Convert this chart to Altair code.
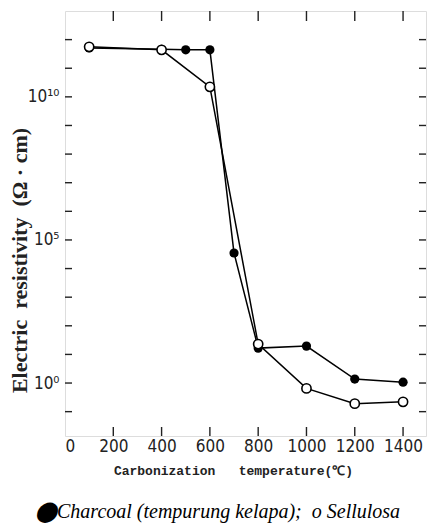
import altair as alt
import pandas as pd

# Data
charcoal_temp = [100, 400, 500, 600, 700, 800, 1000, 1200, 1400]
charcoal_res = [5.1e11, 4.6e11, 4.4e11, 4.4e11, 3.5e4, 16.6, 19.5, 1.38, 1.07]
sellulosa_temp = [100, 400, 600, 800, 1000, 1200, 1400]
sellulosa_res = [5.6e11, 4.4e11, 2.24e10, 22.9, 0.65, 0.19, 0.22]

x_tick_values = [200, 400, 600, 800, 1000, 1200, 1400]
x_label_values = [0, 200, 400, 600, 800, 1000, 1200, 1400]
y_tick_values = [1e-1, 1e0, 1e1, 1e2, 1e3, 1e4, 1e5, 1e6, 1e7, 1e8, 1e9, 1e10, 1e11, 1e12]
y_label_values = [1e0, 1e5, 1e10]

W, H = 361, 425
NB = "\u00a0"

df = pd.concat([
    pd.DataFrame({"series": "Charcoal", "T": charcoal_temp, "R": charcoal_res}),
    pd.DataFrame({"series": "Sellulosa", "T": sellulosa_temp, "R": sellulosa_res}),
])
xt = pd.DataFrame({"T": x_tick_values})
yt = pd.DataFrame({"R": y_tick_values})

xscale = alt.Scale(domain=[0, 1495], nice=False, zero=False)
yscale = alt.Scale(type="log", domain=[0.0141, 1e13], nice=False)

label_font = "DejaVu Sans Condensed"

xaxis = alt.Axis(
    values=x_label_values, ticks=False, grid=False, domain=False, format="d",
    labelFont=label_font, labelFontSize=17, labelColor="#222", labelPadding=2,
    title=f"Carbonization{NB}{NB}{NB}temperature(℃)", titleFont="Liberation Mono",
    titleFontSize=13, titleFontWeight="bold", titleColor="#222", titlePadding=10,
    titleX=168,
)
yaxis = alt.Axis(
    values=y_label_values, ticks=False, grid=False, domain=False,
    labelExpr="datum.value == 1e10 ? '10¹⁰' : datum.value == 1e5 ? '10⁵' : datum.value == 1 ? '10⁰' : ''",
    labelFont=label_font, labelFontSize=17, labelColor="#222", labelPadding=6,
    title=f"Electric{NB}{NB}resistivity{NB}{NB}(Ω{NB}·{NB}cm)", titleFont="Liberation Serif",
    titleFontSize=22, titleFontWeight="bold", titleColor="#222",
    titleX=-46, titleY=249, titleAngle=270, titleBaseline="middle", titleAlign="center",
)

base = alt.Chart(df)

lines = base.mark_line(color="black", strokeWidth=1.5).encode(
    x=alt.X("T:Q", scale=xscale, axis=xaxis),
    y=alt.Y("R:Q", scale=yscale, axis=yaxis),
    detail="series:N",
)

filled = base.transform_filter(alt.datum.series == "Charcoal").mark_point(
    shape="circle", filled=True, color="black", size=85, opacity=1
).encode(x=alt.X("T:Q", scale=xscale), y=alt.Y("R:Q", scale=yscale))

opened = base.transform_filter(alt.datum.series == "Sellulosa").mark_point(
    shape="circle", filled=True, fill="white", stroke="black", strokeWidth=1.6, size=85, opacity=1
).encode(x=alt.X("T:Q", scale=xscale), y=alt.Y("R:Q", scale=yscale))

tick_style = dict(color="#222", strokeWidth=1.4)
bottom_ticks = alt.Chart(xt).mark_rule(**tick_style).encode(
    x=alt.X("T:Q", scale=xscale), y=alt.value(H - 9), y2=alt.value(H)
)
top_ticks = alt.Chart(xt).mark_rule(**tick_style).encode(
    x=alt.X("T:Q", scale=xscale), y=alt.value(0), y2=alt.value(10)
)
left_ticks = alt.Chart(yt).mark_rule(**tick_style).encode(
    y=alt.Y("R:Q", scale=yscale), x=alt.value(0), x2=alt.value(7)
)
right_ticks = alt.Chart(yt).mark_rule(**tick_style).encode(
    y=alt.Y("R:Q", scale=yscale), x=alt.value(W - 7), x2=alt.value(W)
)

chart = alt.layer(
    bottom_ticks, top_ticks, left_ticks, right_ticks, lines, filled, opened
).properties(
    width=W, height=H,
    autosize=alt.AutoSizeParams(type="none"),
    padding={"left": 65, "top": 11, "right": 1, "bottom": 87},
    title=alt.TitleParams(
        text=f"⬤Charcoal (tempurung kelapa);{NB} o Sellulosa",
        orient="bottom", anchor="start", frame="group",
        font="Liberation Serif", fontStyle="italic", fontWeight="normal",
        fontSize=20, color="black", dx=-30, offset=25,
    ),
).configure_view(stroke="#222", strokeWidth=1.6).configure(background="white")

chart.save("out.html", embed_options={"renderer": "svg", "actions": False})
